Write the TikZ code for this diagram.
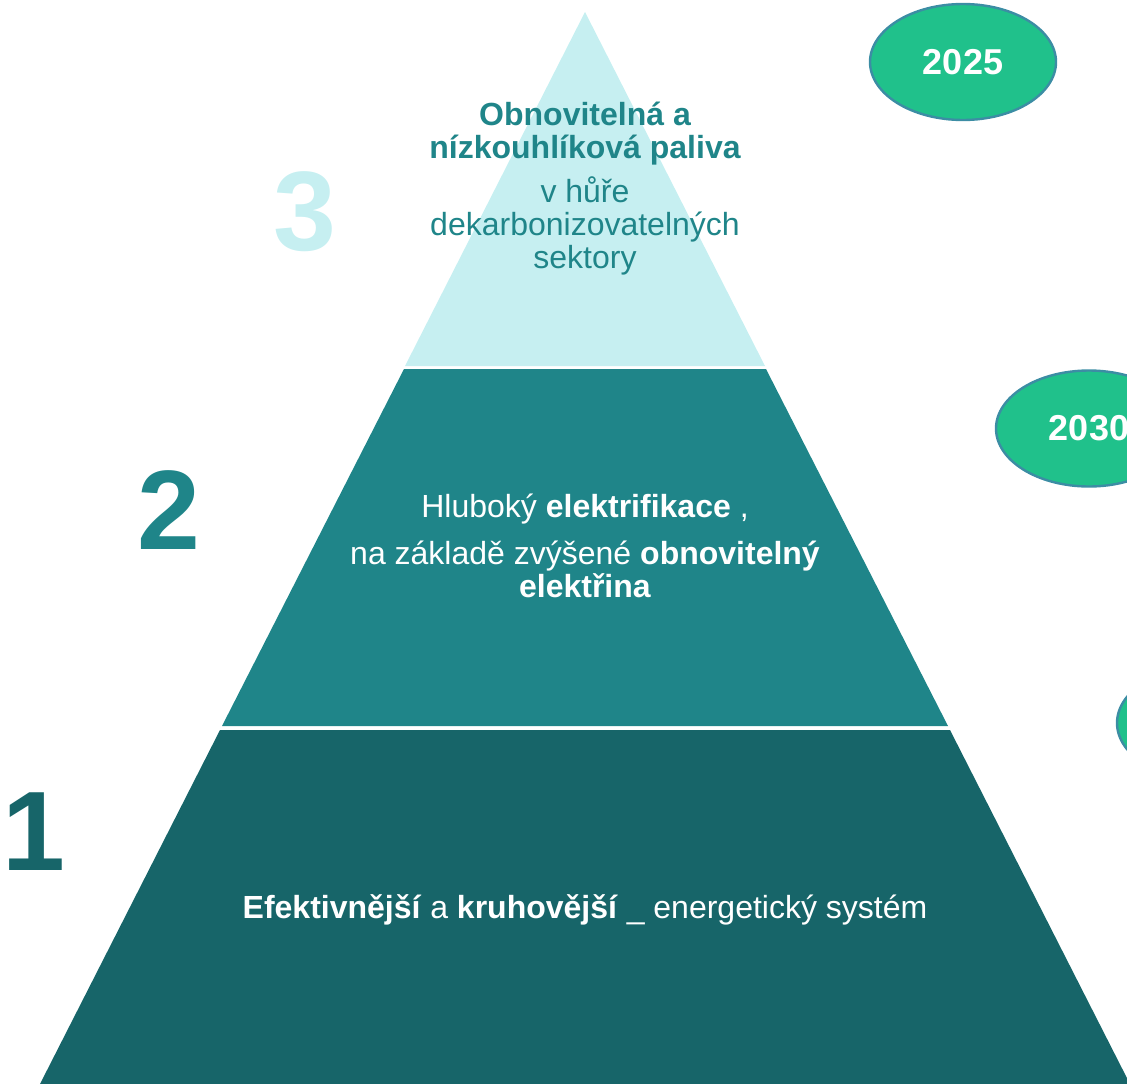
\documentclass[tikz,border=0pt]{standalone}
\usepackage{fontspec}
\setmainfont{Liberation Sans}
\usetikzlibrary{shapes.geometric}
\definecolor{palecyan}{HTML}{C6EFF1}
\definecolor{midteal}{HTML}{1F8589}
\definecolor{darkteal}{HTML}{176569}
\definecolor{yeargreen}{HTML}{20C18B}
\definecolor{yearrim}{HTML}{3C8DA4}

\begin{document}
\begin{tikzpicture}[x=1pt,y=-1pt,
		  yearbubble/.style={ellipse,draw=yearrim,line width=2.4pt,fill=yeargreen,
		    minimum width=186pt,minimum height=116pt,inner sep=0pt,
		    text=white,font=\fontsize{36}{40}\selectfont\bfseries},
		  levelnum/.style={anchor=base,inner sep=0pt,font=\fontsize{113}{113}\selectfont\bfseries},
		  bandtext/.style={align=center,anchor=base,inner sep=0pt,font=\fontsize{32}{33}\selectfont}]
		  \clip (0,0) rectangle (1127,1084);
		  % pyramid bands, top to bottom
		  \fill[palecyan] (585,12) -- (765,366) -- (405,366) -- cycle;
		  \fill[midteal] (404,369) -- (766,369) -- (948,726) -- (222,726) -- cycle;
		  \fill[darkteal] (220,730) -- (950,730) -- (1130,1084) -- (40,1084) -- cycle;
		  % years
		  \node[yearbubble] (y2025) at (963,62) {2025};
		  \node[yearbubble] (y2030) at (1089,428.5) {2030};
		  \node[yearbubble] (y2050) at (1210,723) {};
		  % level numbers
		  \node[levelnum,text=palecyan] (lvl3) at (305,250) {3};
		  \node[levelnum,text=midteal] (lvl2) at (169,549) {2};
		  \node[levelnum,text=darkteal] (lvl1) at (34,870) {1};
		  % band texts (base = last line)
		  \node[bandtext,text=midteal,font=\fontsize{32}{33}\selectfont\bfseries] (fuels) at (585,158) {Obnovitelná a\\nízkouhlíková paliva};
		  \node[bandtext,text=midteal] (sectors) at (585,268) {v hůře\\dekarbonizovatelných\\sektory};
		  \node[bandtext,text=white] (deep) at (585,517) {Hluboký \textbf{elektrifikace} ,};
		  \node[bandtext,text=white] (renew) at (585,597) {na základě zvýšené \textbf{obnovitelný}\\\textbf{elektřina}};
		  \node[bandtext,text=white] (circ) at (585,918) {\textbf{Efektivnější} a \textbf{kruhovější} \_ energetický systém};
\end{tikzpicture}
\end{document}
